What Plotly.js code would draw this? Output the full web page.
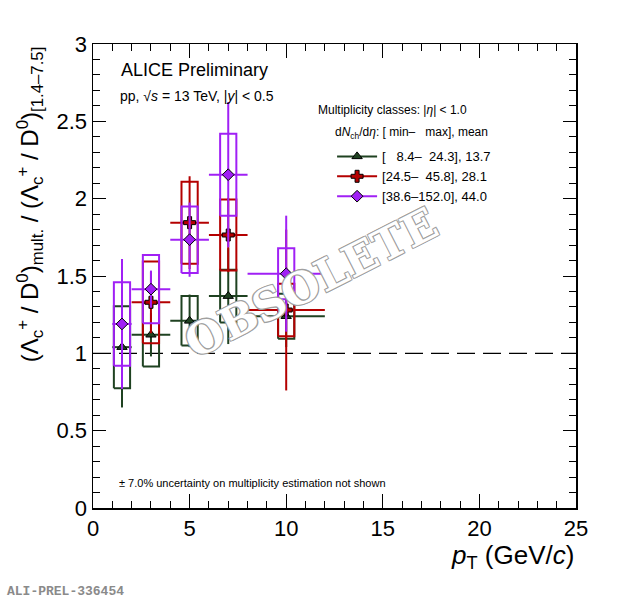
<!DOCTYPE html>
<html>
<head>
<meta charset="utf-8">
<script src="https://cdn.plot.ly/plotly-3.0.1.min.js"></script>
<style>
  body { margin: 0; background: #fff; }
  #plot { width: 620px; height: 600px; }
</style>
</head>
<body>
<div id="plot"></div>
<script>
// pT bins (GeV/c): centre and half width
var ptCenter = [1.5, 3, 5, 7, 10];
var ptHalf = [0.5, 1, 1, 1, 2];

// [8.4-24.3], mean 13.7
var lowY    = [1.04, 1.12, 1.21, 1.37, 1.24];
var lowStat = [0.39, 0.14, 0.17, 0.31, 0.20];
var lowSys  = [0.265, 0.205, 0.16, 0.17, 0.146];

// [24.5-45.8], mean 28.1
var midY    = [null, 1.33, 1.845, 1.765, 1.28];
var midStat = [null, 0.20, 0.30, 0.24, 0.52];
var midSys  = [null, 0.264, 0.265, 0.23, 0.17];

// [38.6-152.0], mean 44.0
var highY    = [1.19, 1.415, 1.735, 2.155, 1.515];
var highStat = [0.42, 0.12, 0.24, 0.47, 0.375];
var highSys  = [0.27, 0.22, 0.215, 0.265, 0.165];

var legendLabels = [
  "[\u00a0\u00a0\u00a08.4\u2013\u00a0\u00a024.3], 13.7",
  "[24.5\u2013\u00a0\u00a045.8], 28.1",
  "[38.6\u2013152.0], 44.0"
];

var colors = ["#1f4221", "#b40000", "#a020f5"];
var symbols = ["triangle-up", "cross", "diamond"];

var boxHalf = 0.42;

function boxTrace(y, sys, col) {
  var bx = [], by = [];
  for (var i = 0; i < ptCenter.length; i++) {
    if (y[i] == null) continue;
    var x0 = ptCenter[i] - boxHalf, x1 = ptCenter[i] + boxHalf;
    var y0 = y[i] - sys[i], y1 = y[i] + sys[i];
    bx.push(x0, x1, x1, x0, x0, null);
    by.push(y0, y0, y1, y1, y0, null);
  }
  return {
    x: bx, y: by, mode: "lines", type: "scatter",
    line: {color: col, width: 2}, showlegend: false, hoverinfo: "skip"
  };
}

function statTrace(y, stat, col, sym) {
  return {
    x: ptCenter, y: y, mode: "markers", type: "scatter",
    marker: {symbol: sym, size: sym == "cross" ? 10 : 9, color: col, line: {color: "#000", width: 1}},
    error_x: {type: "data", array: ptHalf, color: col, thickness: 2, width: 0},
    error_y: {type: "data", array: stat, color: col, thickness: 2, width: 0},
    showlegend: false
  };
}

function legendTrace(name, col, sym) {
  return {
    x: [null], y: [null], mode: "lines+markers", type: "scatter", name: name,
    line: {color: col, width: 2},
    marker: {symbol: sym, size: sym == "cross" ? 10 : 9, color: col, line: {color: "#000", width: 1}}
  };
}

var data = [
  boxTrace(lowY, lowSys, colors[0]),
  statTrace(lowY, lowStat, colors[0], symbols[0]),
  boxTrace(midY, midSys, colors[1]),
  statTrace(midY, midStat, colors[1], symbols[1]),
  boxTrace(highY, highSys, colors[2]),
  statTrace(highY, highStat, colors[2], symbols[2]),
  legendTrace(legendLabels[0], colors[0], symbols[0]),
  legendTrace(legendLabels[1], colors[1], symbols[1]),
  legendTrace(legendLabels[2], colors[2], symbols[2])
];

var font = "Liberation Sans, Arial, sans-serif";

var layout = {
  width: 620,
  height: 600,
  margin: {l: 93, r: 44, t: 44, b: 92},
  paper_bgcolor: "#fff",
  plot_bgcolor: "#fff",
  font: {family: font, color: "#000"},
  showlegend: true,
  legend: {
    x: 0.495, y: 0.79, xanchor: "left", yanchor: "top",
    bgcolor: "rgba(0,0,0,0)", font: {size: 13, family: font},
    tracegroupgap: 0, itemwidth: 40
  },
  xaxis: {
    range: [0, 25], dtick: 5, tick0: 0,
    ticks: "inside", ticklen: 14, tickwidth: 1, tickcolor: "#000",
    minor: {dtick: 1, ticks: "inside", ticklen: 7, tickcolor: "#000", showgrid: false},
    showline: true, linecolor: "#000", linewidth: 1.5, mirror: "ticks",
    showgrid: false, zeroline: false,
    tickfont: {size: 22, family: font}
  },
  yaxis: {
    range: [0, 3], dtick: 0.5, tick0: 0,
    ticks: "inside", ticklen: 13, tickwidth: 1, tickcolor: "#000",
    minor: {dtick: 0.1, ticks: "inside", ticklen: 7, tickcolor: "#000", showgrid: false},
    showline: true, linecolor: "#000", linewidth: 1.5, mirror: "ticks",
    showgrid: false, zeroline: false,
    tickfont: {size: 22, family: font}
  },
  shapes: [
    {type: "line", xref: "x", yref: "y", x0: 0, x1: 25, y0: 1, y1: 1,
     line: {color: "#000", width: 1.2, dash: "18px,8px"}, layer: "below"}
  ],
  annotations: [
    {xref: "paper", yref: "paper", x: 0.054, y: 0.943, xanchor: "left", yanchor: "middle",
     text: "ALICE Preliminary", showarrow: false, font: {size: 18, family: font}},
    {xref: "paper", yref: "paper", x: 0.052, y: 0.887, xanchor: "left", yanchor: "middle",
     text: "pp, \u221a<i>s</i> = 13 TeV, |<i>y</i>| &lt; 0.5", showarrow: false, font: {size: 14, family: font}},
    {xref: "paper", yref: "paper", x: 0.462, y: 0.858, xanchor: "left", yanchor: "middle",
     text: "Multiplicity classes: |<i>\u03b7</i>| &lt; 1.0", showarrow: false, font: {size: 12, family: font}},
    {xref: "paper", yref: "paper", x: 0.497, y: 0.808, xanchor: "left", yanchor: "middle",
     text: "d<i>N</i><sub>ch</sub>/d<i>\u03b7</i>: [\u00a0min\u2013\u00a0\u00a0\u00a0max], mean", showarrow: false, font: {size: 12, family: font}},
    {xref: "paper", yref: "paper", x: 0.05, y: 0.054, xanchor: "left", yanchor: "middle",
     text: "\u00b1 7.0% uncertainty on multiplicity estimation not shown", showarrow: false, font: {size: 11, family: font}},
    {xref: "paper", yref: "paper", x: 1.0, y: -0.105, xanchor: "right", yanchor: "middle",
     text: "<i>p</i><sub>T</sub> (GeV/<i>c</i>)", showarrow: false, font: {size: 26, family: font}},
    {xref: "paper", yref: "paper", x: -0.13, y: 1.0, xanchor: "center", yanchor: "top", textangle: -90,
     text: "(\u039b<sub>c</sub><sup>+</sup> / D<sup>0</sup>)<sub>mult.</sub> / (\u039b<sub>c</sub><sup>+</sup> / D<sup>0</sup>)<sub>[1.4\u20137.5]</sub>",
     showarrow: false, font: {size: 24, family: font}},
    {xref: "paper", yref: "paper", x: -0.182, y: -0.179, xanchor: "left", yanchor: "middle",
     text: "ALI-PREL-336454", showarrow: false,
     font: {size: 13, family: "Liberation Mono, DejaVu Sans Mono, monospace", color: "#8a8a8a", weight: "bold"}},
    {xref: "paper", yref: "paper", x: 0.452, y: 0.485, xanchor: "center", yanchor: "middle", textangle: -27,
     text: "OBSOLETE", showarrow: false,
     font: {size: 44, family: "DejaVu Serif, serif", color: "#ffffff", weight: "bold",
            shadow: "1px 1px 0 #a0a0a0, -1px -1px 0 #a0a0a0, 1px -1px 0 #a0a0a0, -1px 1px 0 #a0a0a0"}}
  ]
};

Plotly.newPlot("plot", data, layout, {staticPlot: true});
</script>
</body>
</html>
